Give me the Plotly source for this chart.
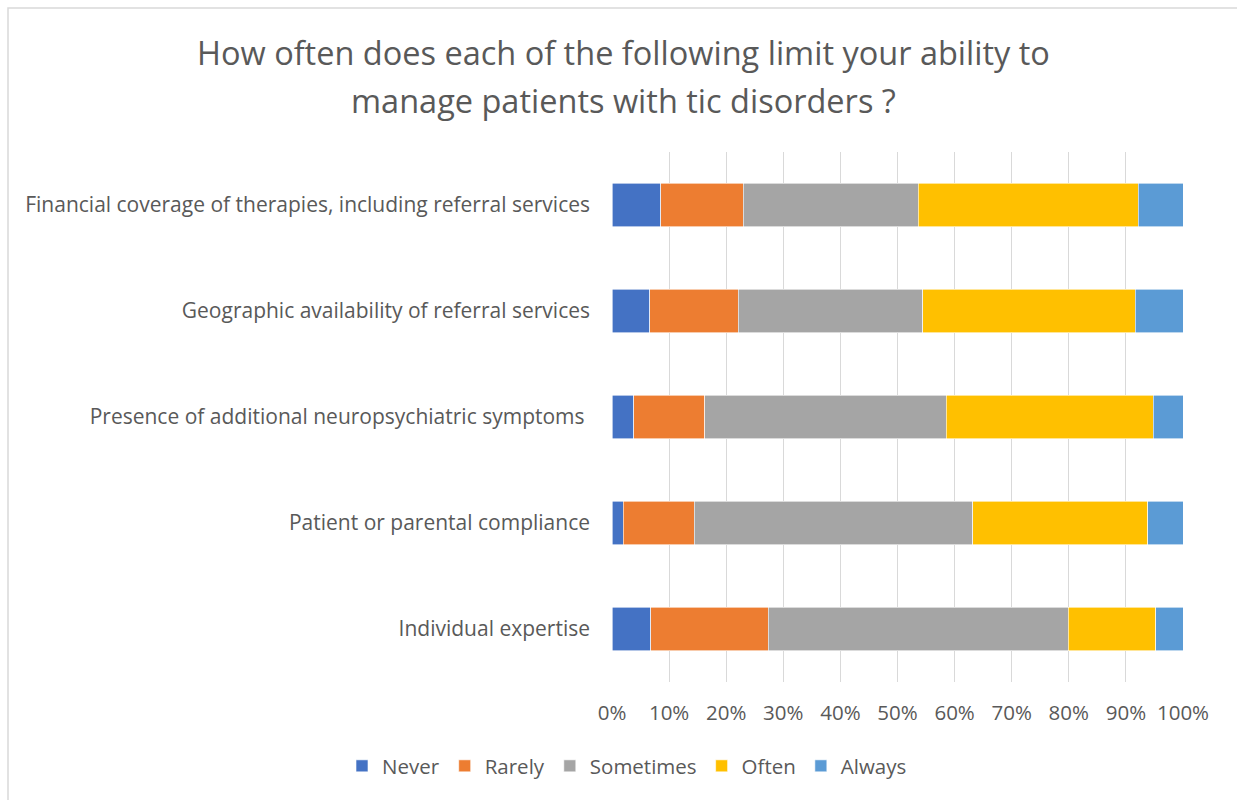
import plotly.graph_objects as go

# Survey items, listed top to bottom
items = [
    "Financial coverage of therapies, including referral services",
    "Geographic availability of referral services",
    "Presence of additional neuropsychiatric symptoms ",
    "Patient or parental compliance",
    "Individual expertise",
]

# Share of responses (%) per frequency level, same order as items
never = [8.5, 6.6, 3.8, 2.0, 6.8]
rarely = [14.5, 15.5, 12.4, 12.4, 20.6]
sometimes = [30.6, 32.3, 42.3, 48.8, 52.5]
often = [38.6, 37.2, 36.3, 30.6, 15.3]
always = [7.8, 8.4, 5.2, 6.2, 4.8]

title_lines = [
    "How often does each of the following limit your ability to",
    "manage patients with tic disorders ?",
]

series = [
    ("Never", never, "#4472C4"),
    ("Rarely", rarely, "#ED7D31"),
    ("Sometimes", sometimes, "#A5A5A5"),
    ("Often", often, "#FFC000"),
    ("Always", always, "#5B9BD5"),
]

tick_vals = list(range(0, 101, 10))
tick_text = [f"{v}%" for v in tick_vals]

FONT = "Open Sans"
GREY = "#595959"
LABEL_SIZE = 20.5

fig = go.Figure()
for name, vals, color in series:
    fig.add_trace(go.Bar(
        name=name, y=items, x=vals, orientation="h",
        marker=dict(color=color, line=dict(color="white", width=0.6)),
    ))

W, H = 1237, 800
L, R, T, B = 612, 54, 152, 118
pw, ph = W - L - R, H - T - B

def px_x(x):
    return (x - L) / pw

def px_y(y):
    return (H - B - y) / ph

# Two-line chart title, each line placed on its own baseline
title_annotations = [
    dict(
        text=line, xref="paper", yref="paper",
        x=px_x(623), y=px_y(yc), xanchor="center", yanchor="middle",
        showarrow=False, font=dict(family=FONT, size=32.5, color=GREY),
    )
    for line, yc in zip(title_lines, [52, 100])
]

fig.update_layout(
    width=W, height=H,
    margin=dict(l=L, r=R, t=T, b=B),
    barmode="stack",
    bargap=0.594,
    paper_bgcolor="white",
    plot_bgcolor="white",
    font=dict(family=FONT, color=GREY, size=LABEL_SIZE),
    annotations=title_annotations,
    xaxis=dict(
        range=[0, 100], tickvals=tick_vals, ticktext=tick_text,
        showgrid=True, gridcolor="#D9D9D9", gridwidth=1,
        zeroline=False, showline=False,
        ticks="", ticklabelstandoff=16,
        tickfont=dict(size=LABEL_SIZE, color=GREY),
        fixedrange=True,
    ),
    yaxis=dict(
        categoryorder="array", categoryarray=items[::-1],
        showgrid=False, zeroline=False, showline=False,
        ticks="", ticklabelstandoff=21,
        tickfont=dict(size=21, color=GREY),
    ),
    legend=dict(
        orientation="h", x=px_x(627), xanchor="center",
        y=px_y(766), yanchor="middle",
        font=dict(size=LABEL_SIZE, color=GREY),
        traceorder="normal", itemwidth=30,
    ),
    shapes=[dict(
        type="rect", xref="paper", yref="paper",
        x0=px_x(8), x1=px_x(1300), y0=px_y(860), y1=px_y(8),
        line=dict(color="#D9D9D9", width=1.5), layer="below",
    )],
)

fig.write_html("out.html")
